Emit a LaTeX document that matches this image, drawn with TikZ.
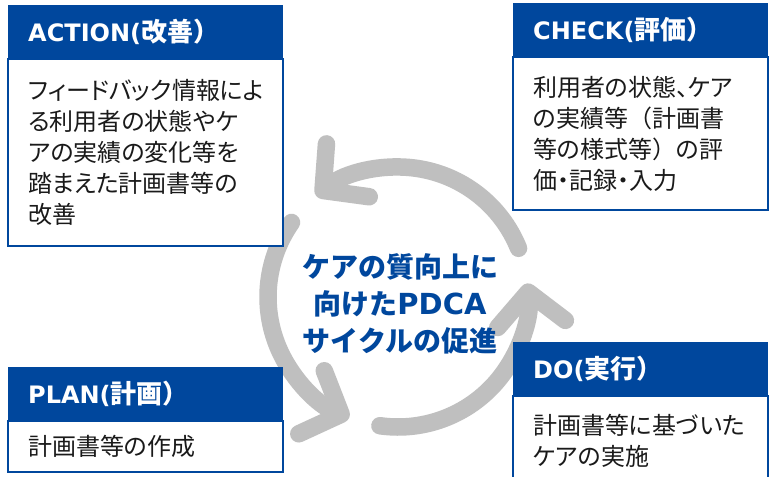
\documentclass[tikz,border=0pt]{standalone}
\usepackage{fontspec}
\setmainfont{Noto Sans CJK JP}
\newfontfamily\jpbody{Noto Sans CJK JP}[RawFeature=+palt]
\newfontfamily\jpplain{Noto Sans CJK JP}
\newfontfamily\latfont{DejaVu Sans}
\usetikzlibrary{arrows.meta,positioning}
\definecolor{pdcablue}{HTML}{00479D}
\definecolor{cyclegray}{HTML}{BFBFBF}
\definecolor{ink}{HTML}{1A1A1A}
\newcommand\bodyfont{\jpbody\fontsize{24pt}{31pt}\selectfont}
\newcommand\hubfont{\jpplain\bfseries\fontsize{28pt}{37pt}\selectfont}
\newcommand\phasetitle[2]{{\latfont\bfseries\fontsize{24pt}{28pt}\selectfont #1(}{\jpplain\bfseries\fontsize{26pt}{28pt}\selectfont #2）}}
\newcommand\fullw[1]{{\jpplain #1}}
\tikzset{
  phasehead/.style={
    rectangle, fill=pdcablue, text=white, anchor=north west,
    text width=#1, inner xsep=20pt, inner ysep=0pt,
    minimum height=53pt, align=left
  },
  phasebody/.style={
    rectangle, draw=pdcablue, fill=white, line width=1.5pt, text=ink,
    text width=#1, inner xsep=20pt, inner ysep=0pt,
    align=left, font=\bodyfont
  },
  cyclearrow/.style={
    cyclegray, line width=17.5pt, line cap=round,
    -{Straight Barb[round, length=32pt, width=68pt]}
  },
  hubtext/.style={text=pdcablue, align=center, font=\hubfont},
}
\begin{document}
\begin{tikzpicture}[x=1pt, y=-1pt]
\clip (0,0) rectangle (770,476);
\fill[white] (0,0) rectangle (770,476);
\coordinate (hub) at (398,297);
% cycle arrows
\draw[cyclearrow] ([shift={(-22:130)}]hub) arc[start angle=-22, end angle=-129, radius=130];
\draw[cyclearrow] ([shift={(-145:130)}]hub) arc[start angle=-145, end angle=-248, radius=130];
\draw[cyclearrow] ([shift={(98:130)}]hub) arc[start angle=98, end angle=-6, radius=130];
\node[hubtext] (hubtxt) at ([shift={(2,7)}]hub)
  {ケアの質向上に\\向けた{\latfont\bfseries\fontsize{29pt}{37pt}\selectfont PDCA}\\サイクルの促進};
% ACTION
\node[phasehead=235pt] (acthead) at (8,5) {\phasetitle{ACTION}{改善}};
\node[phasebody=235pt, minimum height=187pt, below=0pt of acthead] (actbody)
  {フィードバック情報によ\\る利用者の状態やケ\\アの実績の変化等を\\踏まえた計画書等の\\改善};
% CHECK
\node[phasehead=215pt] (chkhead) at (513,3) {\phasetitle{CHECK}{評価}};
\node[phasebody=215pt, minimum height=153pt, below=0pt of chkhead] (chkbody)
  {利用者の状態、ケア\\の実績等\fullw{（}計画書\\等の様式等\fullw{）}の評\\価・記録・入力};
% PLAN
\node[phasehead=235pt] (planhead) at (8,367) {\phasetitle{PLAN}{計画}};
\node[phasebody=235pt, minimum height=51pt, below=0pt of planhead] (planbody)
  {計画書等の作成};
% DO
\node[phasehead=215pt] (dohead) at (513,342) {\phasetitle{DO}{実行}};
\node[phasebody=215pt, minimum height=90pt, below=0pt of dohead] (dobody)
  {計画書等に基づいた\\ケアの実施};
\end{tikzpicture}
\end{document}
